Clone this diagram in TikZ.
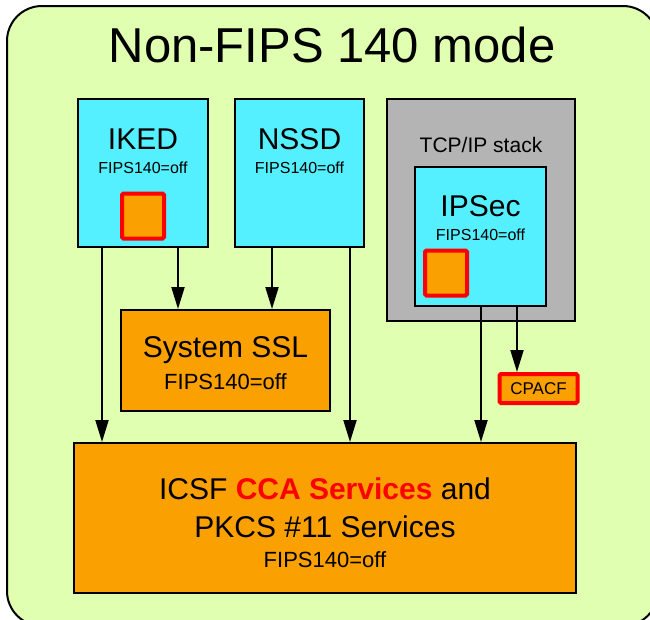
\documentclass[tikz,border=0pt]{standalone}
\usepackage{fontspec}
\setmainfont{Liberation Sans}
\usetikzlibrary{arrows.meta}
\definecolor{bgg}{RGB}{224,255,176}
\definecolor{cyanb}{RGB}{85,240,255}
\definecolor{orangeb}{RGB}{250,160,0}
\definecolor{grayb}{RGB}{180,180,180}
\definecolor{redb}{RGB}{255,0,0}
\tikzset{
  box/.style={draw=black, line width=2pt, inner sep=0pt, rectangle},
  redsq/.style={draw=redb, fill=orangeb, line width=4pt, rounded corners=1.5pt, inner sep=0pt},
  conn/.style={line width=2pt, -{Triangle[length=22pt,width=13pt]}},
  big/.style={font=\fontsize{30}{34}\selectfont},
  med/.style={font=\fontsize{22}{26}\selectfont},
  sml/.style={font=\fontsize{16}{19}\selectfont},
}
\begin{document}
\begin{tikzpicture}[x=1pt,y=-1pt]
\useasboundingbox (0,0) rectangle (650,619);
\begin{scope}
\clip (0,0) rectangle (650,619);
\draw[fill=bgg, line width=2pt, rounded corners=35pt] (7,6) rectangle (658,626);
\end{scope}
\node[font=\fontsize{49}{54}\selectfont] (title) at (332,45) {Non-FIPS 140 mode};

% IKED
\node[box, fill=cyanb, minimum width=130pt, minimum height=148pt] (ikedbox) at (143,173) {};
\node[big] (ikedt) at (143,139) {IKED};
\node[sml] (ikedf) at (143,168) {FIPS140=off};
\node[redsq, minimum width=42pt, minimum height=45pt] (ikedsq) at (143,216) {};

% NSSD
\node[box, fill=cyanb, minimum width=129pt, minimum height=148pt] (nssdbox) at (299.5,173) {};
\node[big] (nssdt) at (299.5,139) {NSSD};
\node[sml] (nssdf) at (299.5,168) {FIPS140=off};

% TCP/IP
\node[box, fill=grayb, minimum width=188pt, minimum height=222pt] (tcpbox) at (481,210) {};
\node[font=\fontsize{21}{25}\selectfont] (tcpt) at (481,145) {TCP/IP stack};
\node[box, fill=cyanb, minimum width=131pt, minimum height=139pt] (ipsecbox) at (480.5,236.5) {};
\node[big] (ipsect) at (480.5,206) {IPSec};
\node[sml] (ipsecf) at (480.5,235) {FIPS140=off};
\node[redsq, minimum width=42pt, minimum height=45pt] (ipsecsq) at (446,273) {};

% CPACF
\node[draw=redb, fill=orangeb, line width=4pt, rounded corners=1.5pt, minimum width=78pt, minimum height=29pt, inner sep=0pt, font=\fontsize{17}{20}\selectfont] (cpacf) at (538.5,388.5) {CPACF};

% System SSL
\node[box, fill=orangeb, minimum width=209pt, minimum height=101pt] (sslbox) at (225.5,360.5) {};
\node[big] (sslt) at (225.5,350) {System SSL};
\node[med] (sslf) at (225.5,382) {FIPS140=off};

% ICSF
\node[box, fill=orangeb, minimum width=502pt, minimum height=150pt] (icsfbox) at (325,518) {};
\node[big] (icsf1) at (325,489) {ICSF \textcolor{redb}{\textbf{CCA Services}} and};
\node[big] (icsf2) at (325,527) {PKCS \#11 Services};
\node[med] (icsff) at (325,560) {FIPS140=off};

% connectors
\draw[conn] (ikedbox.south -| 102,0) -- (icsfbox.north -| 102,0);
\draw[conn] (ikedbox.south -| 178,0) -- (sslbox.north -| 178,0);
\draw[conn] (nssdbox.south -| 272,0) -- (sslbox.north -| 272,0);
\draw[conn] (nssdbox.south -| 350,0) -- (icsfbox.north -| 350,0);
\draw[conn] (ipsecbox.south -| 481,0) -- (icsfbox.north -| 481,0);
\draw[conn] (ipsecbox.south -| 517,0) -- (cpacf.north -| 517,0);
\end{tikzpicture}
\end{document}
